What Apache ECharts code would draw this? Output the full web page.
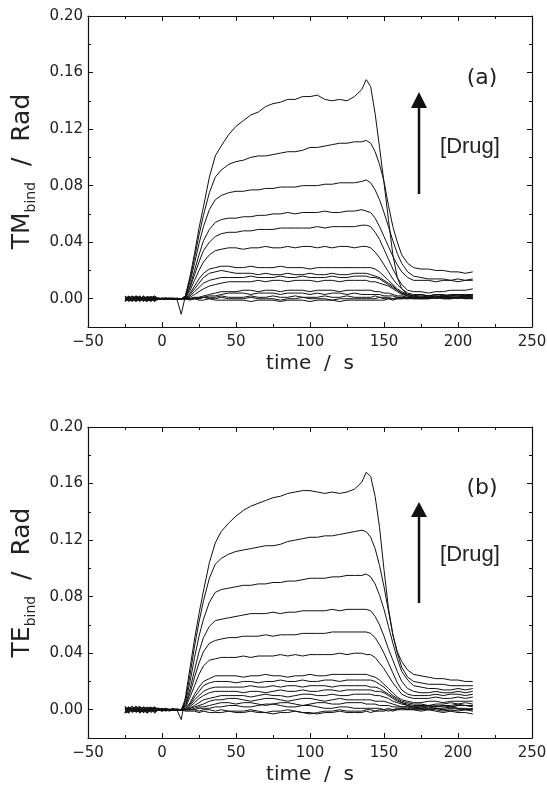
<!DOCTYPE html>
<html><head><meta charset="utf-8">
<script src="https://cdn.jsdelivr.net/npm/echarts@6/dist/echarts.min.js"></script>
<style>html,body{margin:0;padding:0;background:#fff}#c{width:547px;height:787px}</style>
</head><body><div id="c"></div>
<script>
// time points (s)
const T = [-25,-22.5,-20,-17.5,-15,-12.5,-10,-7.5,-5,-2.5,0,2.5,5,7.5,10,
  13,16,19,22,25,28,32,36,40,45,
  50,55,60,65,70,75,80,85,90,95,100,105,110,115,120,125,130,
  135,138,141,144,147,150,153,156,159,162,166,170,
  175,180,185,190,195,200,205,210];

// y tick values in mrad (labels shown in rad)
const yTickValues = [0,40,80,120,160,200];

// Panel (a): TM_bind, mrad
const a1 = [1.5,-1,0.5,2,-1.5,0,1,-2,0.5,0,0.3,0.5,0,-0.3,0, -11,3,16,32,50,65,86,101,108,116, 122,126,130,132,136,138,139,141,141,143,143,144,141,140,141,140,143, 148,155,150,131,107,82,56,31,15,7,3,2, 3,2,3,2,3,3,2,3];
const a2 = [-2,0.5,1.5,-1,0,2,-0.5,-1.5,1,0,0,-0.4,0.5,0,0, 0,2,14,29,45,59,75,86,91,95, 97,98,100,101,101,102,103,104,104,105,107,107,108,109,110,110,111, 111,112,110,104,95,83,66,51,40,31,25,22, 21,21,20,20,19,19,18,19];
const a3 = [0.5,1.5,-1.5,0,2,-1,0.5,1,-1.5,-0.5,0,0.3,0,0.5,0, 0,2,12,25,39,51,63,70,73,75, 76,76,77,77,78,78,79,79,79,80,80,80,81,81,82,82,82, 83,84,82,77,70,61,51,41,32,25,19,16, 15,14,14,14,13,14,13,14];
const a4 = [1,-0.5,-2,1.5,0,-0.5,-1.5,0.5,2,0,0.4,0,-0.5,0,0, 0,1,9,20,31,41,49,54,56,57, 57,58,58,59,59,60,60,61,60,61,61,61,62,61,61,62,62, 63,62,61,57,51,44,37,30,24,19,15,13, 13,13,12,13,13,12,13,13];
const a5 = [-1.5,2,0,-1,1,0.5,1.5,-1,-0.5,0.5,0,-0.5,0,0.3,0, 0,1,8,17,26,34,40,44,46,47, 47,48,48,49,49,49,50,50,50,50,50,51,50,51,51,51,51, 52,52,51,47,42,35,28,21,15,10,6,5, 5,4,5,5,6,6,6,7];
const a6 = [0,-1.5,1,0.5,-2,1.5,0,-0.5,-1,0,-0.3,0.5,0,0,0, 0,1,6,13,20,26,31,34,35,36, 36,35,36,36,37,36,36,37,36,37,37,36,37,36,37,37,36, 37,37,36,33,29,24,19,14,10,7,4,3, 3,2,3,3,2,3,3,3];
const a7 = [2,0,-0.5,-1.5,1,-1,-2,1.5,0.5,0,0,0,0.5,0,-0.3, 0,0,4,9,14,18,21,22,23,23, 22,22,23,22,22,22,23,22,22,22,21,22,22,22,22,22,22, 22,22,22,21,19,16,13,10,7,5,3,2, 2,2,2,1,2,2,2,2];
const a8 = [-1,0.5,1.5,0,-1.5,-0.5,1,0,-2,0.3,0,0,0,-0.5,0, 0,0,3,7,11,15,18,19,20,19, 18,18,18,17,18,17,17,18,17,17,18,17,17,18,17,17,18, 18,18,17,16,15,13,11,9,6,4,3,2, 1,2,1,2,1,1,2,1];
const a9 = [0.5,1,-0.5,-2,0,1.5,-1,0.5,1.5,0,0,0.4,0,0,0.5, 0,0,2,5,8,11,13,14,15,15, 15,15,16,15,15,15,16,15,15,16,15,15,15,16,15,15,16, 16,16,15,15,14,12,10,8,6,4,2,1, 1,1,2,1,1,1,1,2];
const a10 = [1.5,-2,0,1,-1,0,0.5,1.5,-0.5,0,0,0,-0.4,0,0, 0,0,1,3,5,7,9,10,11,12, 12,12,12,13,12,13,13,12,13,13,13,12,13,13,12,13,13, 13,13,12,12,11,10,9,7,5,3,2,1, 1,1,1,2,1,1,2,2];
const a11 = [0,-0.5,-1.5,2,0.5,-1.5,1,0,-1,0.5,0,0,0.3,0,-0.5, 0,0,0,1,1,2,3,4,5,5, 5,6,6,5,6,6,5,6,6,6,5,6,6,6,5,6,6, 6,6,6,5,5,4,4,3,2,2,1,1, 1,1,1,2,2,2,2,3];
const a12 = [-1.5,1,0.5,0,1.5,-0.5,-1,-1.5,1,-0.5,0,0,0,0.3,0, 0,0,0,0,1,1,2,2,3,4, 4,4,3,4,4,4,3,4,4,4,3,4,3,4,4,3,4, 3,3,3,3,3,2,2,2,1,1,1,1, 1,0,1,1,0,1,1,1];
const a13 = [1,0,-1,-0.5,0.5,-2,1.5,1,-1,0,0.4,0,0,0,0, 0,0,0,1,0,1,1,1,2,1, 1,1,2,1,1,2,1,1,2,1,1,1,2,1,1,2,1, 1,1,1,2,1,1,1,0,1,1,0,1, 0,1,0,1,1,0,1,0];
const a14 = [-0.5,-1,2,0,-0.5,1,0,-1,0.5,0,0,-0.3,0,0,0, 0,0,0,0,0,1,0,0,1,0, 0,0,1,0,0,0,-1,0,0,1,0,0,0,-1,0,0,0, 0,0,0,0,1,0,0,0,0,0,1,0, 0,0,1,0,0,1,0,0];
const a15 = [-2,0.5,-0.5,1,-1,0,-0.5,-1,0,0,0,0,0,0,0, 0,0,-1,0,-1,-1,0,-1,-1,-1, -1,-1,-2,-1,-1,-1,-2,-1,-1,-1,-2,-1,-1,-1,-2,-1,-1, -1,-1,-1,-1,-1,-1,0,-1,0,0,0,0, 0,0,1,0,0,1,0,1];

// Panel (b): TE_bind, mrad
const b1 = [2.5,-2,1,-1.5,2,-1,0,2,-2.5,0,0,1,0,0,0, -7,10,30,50,68,84,104,118,126,132, 137,141,144,146,148,150,151,153,154,155,155,154,153,154,153,154,156, 161,168,165,151,129,99,72,53,41,34,28,25, 24,23,22,22,21,21,20,20];
const b2 = [-2,1.5,0,2.5,-1,1,-2,0,1.5,0,0,0,0.5,0,0, 0,8,25,45,62,77,93,103,107,110, 112,113,114,115,116,116,117,119,120,121,122,122,123,123,124,125,126, 127,126,122,114,102,87,70,53,40,30,23,20, 19,18,18,18,17,17,17,17];
const b3 = [1,-2.5,2,0,-1.5,2,1,-2,0,0.5,0,-0.5,0,0,0.5, 0,6,20,37,52,64,76,83,85,86, 87,88,88,89,89,90,90,91,91,92,93,93,93,94,94,95,95, 95,96,94,89,81,71,59,47,36,27,21,17, 16,15,15,14,14,15,14,15];
const b4 = [0,2,-1,1.5,-2.5,0,1,1.5,-1,0,0,0,0,0.5,0, 0,4,15,28,41,51,59,63,64,65, 66,67,68,68,68,69,68,69,69,70,70,70,70,71,70,71,71, 71,71,70,66,60,52,43,35,27,20,15,13, 12,12,13,12,12,13,12,13];
const b5 = [-1.5,1,2.5,-1,0,-2,0,1,2,0,0.5,0,-0.5,0,0, 0,3,12,23,33,41,47,49,50,51, 51,52,52,52,53,52,53,53,53,54,54,54,54,55,55,55,55, 55,55,54,51,46,40,33,26,19,14,11,10, 10,10,11,10,11,11,10,11];
const b6 = [2,0,-1.5,-1,1,1.5,-2.5,0,1,1,0,0,0,0,0, 0,2,9,17,25,31,35,36,37,37, 37,38,37,38,38,38,39,38,39,38,39,39,39,39,40,39,40, 40,39,39,37,33,29,24,19,15,11,9,8, 8,8,9,8,8,9,8,9];
const b7 = [-2.5,-1,1,2,0,-1.5,1,-1,0,0,-1,0,0,0,0.5, 0,1,5,11,16,20,22,24,24,24, 24,23,24,24,25,24,24,23,24,24,25,24,24,25,25,25,25, 25,25,24,23,21,18,15,12,9,7,6,5, 5,6,6,5,6,6,6,6];
const b8 = [1,0.5,-2,1,2.5,-1,0,0,-1.5,0,0,0,0,-0.5,0, 0,1,4,9,13,17,19,20,20,20, 19,20,20,19,20,20,21,20,20,21,20,20,21,21,20,21,21, 21,21,21,20,18,16,13,10,8,6,5,4, 4,3,4,4,5,4,5,4];
const b9 = [-1,2,0,-1,1,-2,1,0,0,1,0,0,0,0,0, 0,0,3,7,10,13,15,16,16,16, 16,16,17,16,16,17,16,17,17,16,17,17,17,16,17,17,17, 17,17,16,16,15,13,11,9,7,5,4,3, 3,3,2,3,3,4,3,3];
const b10 = [0,-1,1,2,-1,0,-1,1,0,0,0,1,0,0,0, 0,0,2,5,8,10,12,13,13,13, 13,12,13,13,12,13,14,13,13,14,13,13,14,14,13,14,14, 14,14,14,13,13,12,10,8,6,5,3,2, 2,2,3,2,2,3,3,3];
const b11 = [2,-1,0,0,-2,1,0,-1,1,0,0,0,0,0,0, 0,0,1,3,5,7,8,9,10,10, 10,10,9,10,11,10,10,9,10,11,11,10,10,11,10,10,11, 11,11,11,10,10,9,8,6,5,4,3,2, 1,2,1,1,2,1,1,0];
const b12 = [-2,1,1,-1,0,2,-1,0,-1,0,0,-1,0,0,0, 0,0,1,2,3,4,6,7,7,8, 8,7,6,7,8,8,7,6,7,8,8,7,6,7,8,7,7, 7,7,7,6,6,6,5,4,3,2,2,1, 1,0,1,0,-1,0,0,-1];
const b13 = [1,0,-1,2,-1,-1,2,1,0,0,0,0,0,1,0, 0,0,0,1,2,2,3,4,5,5, 4,5,5,4,3,4,5,5,4,3,4,5,5,4,4,5,5, 5,4,4,4,3,3,3,2,2,2,2,2, 2,3,2,3,2,3,3,2];
const b14 = [-1,-2,1,0,2,0,-1,0,1,0,1,0,0,0,0, 0,0,0,0,1,1,1,2,2,3, 3,2,2,3,4,4,3,2,2,3,3,2,1,1,2,2,1, 1,1,1,1,1,0,1,0,1,1,1,0, 0,1,0,-1,0,-1,0,0];
const b15 = [2,0,1,-2,0,-1,1,-1,0,0,-1,0,0,0,0, 0,0,0,0,-1,0,0,-1,0,-1, -1,-1,0,-1,-2,-1,-1,0,-1,-2,-3,-2,-1,-1,0,-1,-1, -1,0,0,-1,0,0,-1,0,0,1,0,0, -1,0,-1,-2,-1,-2,-2,-3];
const b16 = [-2,1,-1,0,1,-1,-2,0,1,0,0,0,-1,0,0, 0,-1,-1,-1,-2,-1,-2,-2,-2,-1, -2,-2,-1,-2,-2,-3,-2,-2,-1,-2,-2,-3,-2,-2,-1,-2,-2, -2,-1,-2,-1,-1,-1,0,-1,0,0,0,1, 1,0,1,0,1,1,0,1];

const curvesA = [a1,a2,a3,a4,a5,a6,a7,a8,a9,a10,a11,a12,a13,a14,a15];
const curvesB = [b1,b2,b3,b4,b5,b6,b7,b8,b9,b10,b11,b12,b13,b14,b15,b16];

const INK = '#111';
const FONT_NUM = 'DejaVu Sans';

function xAxes(grid, withLabels) {
  const common = {
    gridIndex: grid, type: 'value', min: -50, max: 250, interval: 50,
    axisLine: {show: true, onZero: false, lineStyle: {color: INK, width: 1.2}},
    axisTick: {show: true, inside: true, length: 5, lineStyle: {color: INK, width: 1}},
    minorTick: {show: true, splitNumber: 2, length: 3, lineStyle: {color: INK, width: 1}},
    splitLine: {show: false}, minorSplitLine: {show: false}
  };
  return [
    Object.assign({}, common, {
      position: 'bottom',
      axisLabel: {show: true, margin: 8, fontFamily: FONT_NUM, fontSize: 15, color: '#222',
        formatter: v => (v < 0 ? '\u2212' + Math.abs(v) : String(v))},
      name: withLabels ? 'time  /  s' : '', nameLocation: 'middle', nameGap: 27,
      nameTextStyle: {fontFamily: FONT_NUM, fontSize: 20, color: '#222'}
    }),
    Object.assign({}, common, {position: 'top', axisLabel: {show: false}})
  ];
}

function yAxes(grid, nameMain) {
  const base = {gridIndex: grid, type: 'value', min: -20, max: 200, splitLine: {show: false}};
  return [
    Object.assign({}, base, {position: 'left', interval: 20,
      axisLine: {show: true, onZero: false, lineStyle: {color: INK, width: 1.2}},
      axisTick: {show: true, inside: true, length: 3, lineStyle: {color: INK, width: 1}},
      axisLabel: {show: false}}),
    Object.assign({}, base, {position: 'left', interval: 20,
      axisLine: {show: false, onZero: false},
      axisTick: {show: true, inside: true, length: 5, customValues: yTickValues, lineStyle: {color: INK, width: 1}},
      axisLabel: {show: true, customValues: yTickValues, margin: 5, fontFamily: FONT_NUM, fontSize: 15, color: '#222',
        formatter: v => (v / 1000).toFixed(2)},
      name: '{m|' + nameMain + '}{s|bind}{m|  /  Rad}', nameLocation: 'middle', nameGap: 50,
      nameTextStyle: {rich: {
        m: {fontFamily: FONT_NUM, fontSize: 25, color: '#222', lineHeight: 32},
        s: {fontFamily: FONT_NUM, fontSize: 14, color: '#222', verticalAlign: 'bottom', lineHeight: 15}
      }}}),
    Object.assign({}, base, {position: 'right', interval: 20,
      axisLine: {show: true, onZero: false, lineStyle: {color: INK, width: 1.2}},
      axisTick: {show: true, inside: true, length: 3, lineStyle: {color: INK, width: 1}},
      axisLabel: {show: false}}),
    Object.assign({}, base, {position: 'right', interval: 20,
      axisLine: {show: false, onZero: false},
      axisTick: {show: true, inside: true, length: 5, customValues: yTickValues, lineStyle: {color: INK, width: 1}},
      axisLabel: {show: false, customValues: yTickValues}})
  ];
}

function lineSeries(arr, xi, yi) {
  return {
    type: 'line', xAxisIndex: xi, yAxisIndex: yi,
    data: T.map((t, i) => [t, arr[i]]),
    symbol: 'none', showSymbol: false, silent: true, animation: false,
    lineStyle: {color: '#111', width: 1}
  };
}

const series = [];
curvesA.forEach(c => series.push(lineSeries(c, 0, 0)));
curvesB.forEach(c => series.push(lineSeries(c, 2, 4)));

function arrow(xc, tip, base, bottom) {
  return [
    {type: 'line', shape: {x1: xc, y1: base - 1, x2: xc, y2: bottom}, style: {stroke: INK, lineWidth: 2.5}},
    {type: 'polygon', shape: {points: [[xc, tip], [xc - 8, base], [xc + 8, base]]}, style: {fill: INK}}
  ];
}

function label(text, x, y, size, family) {
  return {type: 'text', x: x, y: y, style: {text: text, fontSize: size, fontFamily: family, fill: '#222', align: 'center', verticalAlign: 'middle'}};
}

const chart = echarts.init(document.getElementById('c'), null, {renderer: 'canvas'});
chart.setOption({
  backgroundColor: '#fff',
  animation: false,
  grid: [
    {left: 88, top: 16, width: 444, height: 311, outerBoundsMode: 'none', containLabel: false},
    {left: 88, top: 427, width: 444, height: 311, outerBoundsMode: 'none', containLabel: false}
  ],
  xAxis: [].concat(xAxes(0, true), xAxes(1, true)),
  yAxis: [].concat(yAxes(0, 'TM'), yAxes(1, 'TE')),
  series: series,
  graphic: [].concat(
    arrow(419, 92, 108, 194),
    arrow(419, 502, 517, 603),
    [label('(a)', 482, 78, 22, FONT_NUM), label('(b)', 482, 488, 22, FONT_NUM),
     label('[Drug]', 470, 147, 22, 'Liberation Sans'), label('[Drug]', 470, 555, 22, 'Liberation Sans')]
  )
});
</script>
</body></html>
